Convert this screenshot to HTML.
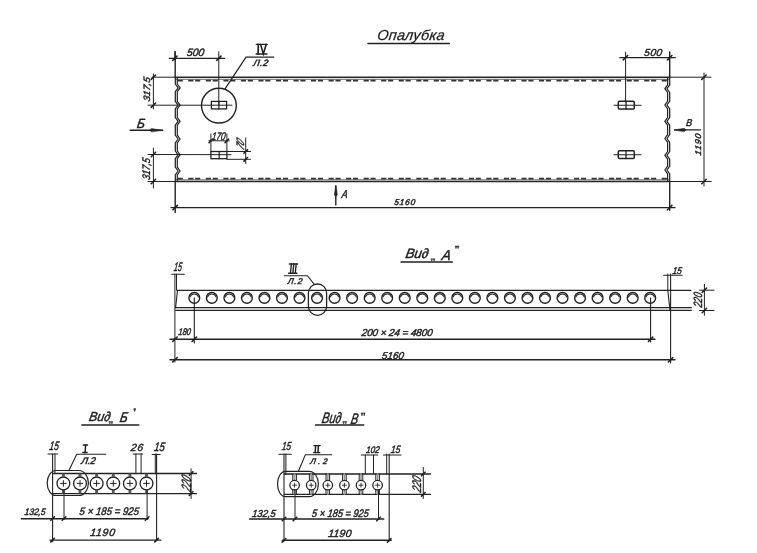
<!DOCTYPE html>
<html><head><meta charset="utf-8"><style>
html,body{margin:0;padding:0;background:#fff;width:757px;height:553px;overflow:hidden}
svg{display:block;will-change:transform}
text{font-family:"Liberation Sans",sans-serif;font-style:italic;fill:#1e1e1e;stroke:#1e1e1e}
</style></head><body>
<svg width="757" height="553" viewBox="0 0 757 553" stroke="#222" stroke-linecap="round" fill="none">
<line x1="368.0" y1="43.6" x2="449.4" y2="43.6" stroke-width="1.5" />
<line x1="152.0" y1="77.2" x2="175.2" y2="77.2" stroke-width="1.0" />
<line x1="175.2" y1="77.2" x2="669.7" y2="77.2" stroke-width="1.6" stroke="#2a2a2a"/>
<line x1="176.2" y1="79.3" x2="668.7" y2="79.3" stroke-width="0.8" stroke="#444"/>
<line x1="669.7" y1="77.2" x2="711.0" y2="77.2" stroke-width="1.0" />
<path d="M177.7,80.7 L182.8,80.7 M188.3,80.7 L193.4,80.7 M195.2,80.7 L200.3,80.7 M205.8,80.7 L210.9,80.7 M212.7,80.7 L217.8,80.7 M223.4,80.7 L228.5,80.7 M230.3,80.7 L235.4,80.7 M240.9,80.7 L246.0,80.7 M247.8,80.7 L252.9,80.7 M258.4,80.7 L263.5,80.7 M265.3,80.7 L270.4,80.7 M276.0,80.7 L281.1,80.7 M282.9,80.7 L288.0,80.7 M293.5,80.7 L298.6,80.7 M300.4,80.7 L305.5,80.7 M311.0,80.7 L316.1,80.7 M317.9,80.7 L323.0,80.7 M328.6,80.7 L333.7,80.7 M335.5,80.7 L340.6,80.7 M346.1,80.7 L351.2,80.7 M353.0,80.7 L358.1,80.7 M363.6,80.7 L368.8,80.7 M370.5,80.7 L375.6,80.7 M381.2,80.7 L386.3,80.7 M388.1,80.7 L393.2,80.7 M398.7,80.7 L403.8,80.7 M405.6,80.7 L410.7,80.7 M416.3,80.7 L421.4,80.7 M423.2,80.7 L428.3,80.7 M433.8,80.7 L438.9,80.7 M440.7,80.7 L445.8,80.7 M451.3,80.7 L456.4,80.7 M458.2,80.7 L463.3,80.7 M468.9,80.7 L474.0,80.7 M475.8,80.7 L480.9,80.7 M486.4,80.7 L491.5,80.7 M493.3,80.7 L498.4,80.7 M503.9,80.7 L509.0,80.7 M510.8,80.7 L515.9,80.7 M521.5,80.7 L526.6,80.7 M528.4,80.7 L533.5,80.7 M539.0,80.7 L544.1,80.7 M545.9,80.7 L551.0,80.7 M556.5,80.7 L561.6,80.7 M563.4,80.7 L568.5,80.7 M574.1,80.7 L579.2,80.7 M581.0,80.7 L586.1,80.7 M591.6,80.7 L596.7,80.7 M598.5,80.7 L603.6,80.7 M609.1,80.7 L614.2,80.7 M616.0,80.7 L621.1,80.7 M626.7,80.7 L631.8,80.7 M633.6,80.7 L638.7,80.7 M644.2,80.7 L649.3,80.7 M651.1,80.7 L656.2,80.7 M661.7,80.7 L666.8,80.7 " stroke-width="1.8" stroke="#333" stroke-linecap="butt"/>
<line x1="148.0" y1="181.5" x2="175.2" y2="181.5" stroke-width="1.0" />
<line x1="175.2" y1="181.5" x2="669.7" y2="181.5" stroke-width="1.6" stroke="#2a2a2a"/>
<line x1="176.2" y1="179.8" x2="668.7" y2="179.8" stroke-width="0.8" stroke="#444"/>
<line x1="669.7" y1="181.5" x2="711.2" y2="181.5" stroke-width="1.0" />
<path d="M177.7,178.6 L182.8,178.6 M188.3,178.6 L193.4,178.6 M195.2,178.6 L200.3,178.6 M205.8,178.6 L210.9,178.6 M212.7,178.6 L217.8,178.6 M223.4,178.6 L228.5,178.6 M230.3,178.6 L235.4,178.6 M240.9,178.6 L246.0,178.6 M247.8,178.6 L252.9,178.6 M258.4,178.6 L263.5,178.6 M265.3,178.6 L270.4,178.6 M276.0,178.6 L281.1,178.6 M282.9,178.6 L288.0,178.6 M293.5,178.6 L298.6,178.6 M300.4,178.6 L305.5,178.6 M311.0,178.6 L316.1,178.6 M317.9,178.6 L323.0,178.6 M328.6,178.6 L333.7,178.6 M335.5,178.6 L340.6,178.6 M346.1,178.6 L351.2,178.6 M353.0,178.6 L358.1,178.6 M363.6,178.6 L368.8,178.6 M370.5,178.6 L375.6,178.6 M381.2,178.6 L386.3,178.6 M388.1,178.6 L393.2,178.6 M398.7,178.6 L403.8,178.6 M405.6,178.6 L410.7,178.6 M416.3,178.6 L421.4,178.6 M423.2,178.6 L428.3,178.6 M433.8,178.6 L438.9,178.6 M440.7,178.6 L445.8,178.6 M451.3,178.6 L456.4,178.6 M458.2,178.6 L463.3,178.6 M468.9,178.6 L474.0,178.6 M475.8,178.6 L480.9,178.6 M486.4,178.6 L491.5,178.6 M493.3,178.6 L498.4,178.6 M503.9,178.6 L509.0,178.6 M510.8,178.6 L515.9,178.6 M521.5,178.6 L526.6,178.6 M528.4,178.6 L533.5,178.6 M539.0,178.6 L544.1,178.6 M545.9,178.6 L551.0,178.6 M556.5,178.6 L561.6,178.6 M563.4,178.6 L568.5,178.6 M574.1,178.6 L579.2,178.6 M581.0,178.6 L586.1,178.6 M591.6,178.6 L596.7,178.6 M598.5,178.6 L603.6,178.6 M609.1,178.6 L614.2,178.6 M616.0,178.6 L621.1,178.6 M626.7,178.6 L631.8,178.6 M633.6,178.6 L638.7,178.6 M644.2,178.6 L649.3,178.6 M651.1,178.6 L656.2,178.6 M661.7,178.6 L666.8,178.6 " stroke-width="1.8" stroke="#333" stroke-linecap="butt"/>
<line x1="175.2" y1="51.8" x2="175.2" y2="77.2" stroke-width="1.4" />
<line x1="175.2" y1="181.5" x2="175.2" y2="212.6" stroke-width="1.4" />
<path d="M175.3,77.2 L175.3,84.0 L178.1,87.8 L175.3,91.6 L175.3,101.3 L178.1,105.1 L175.3,108.9 L175.3,117.5 L178.1,121.3 L175.3,125.1 L175.3,135.2 L178.1,139.0 L175.3,142.8 L175.3,151.0 L178.1,154.8 L175.3,158.6 L175.3,167.2 L178.1,171.0 L175.3,174.8 L175.3,181.5" stroke-width="1.25" stroke="#222" stroke-linejoin="round"/>
<path d="M177.3,78.2 L177.3,84.0 L180.1,87.8 L177.3,91.6 L177.3,101.3 L180.1,105.1 L177.3,108.9 L177.3,117.5 L180.1,121.3 L177.3,125.1 L177.3,135.2 L180.1,139.0 L177.3,142.8 L177.3,151.0 L180.1,154.8 L177.3,158.6 L177.3,167.2 L180.1,171.0 L177.3,174.8 L177.3,180.5" stroke-width="1.2" stroke="#222" stroke-linejoin="round"/>
<line x1="669.7" y1="52.0" x2="669.7" y2="77.2" stroke-width="1.4" />
<line x1="669.7" y1="181.5" x2="669.7" y2="210.3" stroke-width="1.4" />
<path d="M669.7,77.2 L669.7,84.9 L666.9,88.7 L669.7,92.5 L669.7,101.2 L666.9,105.0 L669.7,108.8 L669.7,117.5 L666.9,121.3 L669.7,125.1 L669.7,134.7 L666.9,138.5 L669.7,142.3 L669.7,151.5 L666.9,155.3 L669.7,159.1 L669.7,166.2 L666.9,170.0 L669.7,173.8 L669.7,181.5" stroke-width="1.25" stroke="#222" stroke-linejoin="round"/>
<path d="M667.6,78.2 L667.6,84.9 L664.8,88.7 L667.6,92.5 L667.6,101.2 L664.8,105.0 L667.6,108.8 L667.6,117.5 L664.8,121.3 L667.6,125.1 L667.6,134.7 L664.8,138.5 L667.6,142.3 L667.6,151.5 L664.8,155.3 L667.6,159.1 L667.6,166.2 L664.8,170.0 L667.6,173.8 L667.6,180.5" stroke-width="1.2" stroke="#222" stroke-linejoin="round"/>
<line x1="153.4" y1="74.0" x2="153.4" y2="109.0" stroke-width="1.0" />
<line x1="153.4" y1="148.0" x2="153.4" y2="188.0" stroke-width="1.0" />
<line x1="148.0" y1="105.2" x2="232.0" y2="105.2" stroke-width="1.0" />
<line x1="148.0" y1="154.5" x2="231.0" y2="154.7" stroke-width="1.0" />
<line x1="151.2" y1="79.4" x2="155.6" y2="75.0" stroke-width="1.6"/>
<line x1="151.2" y1="107.4" x2="155.6" y2="103.0" stroke-width="1.6"/>
<line x1="151.2" y1="156.7" x2="155.6" y2="152.3" stroke-width="1.6"/>
<line x1="151.2" y1="183.7" x2="155.6" y2="179.3" stroke-width="1.6"/>
<line x1="130.2" y1="130.2" x2="162.7" y2="130.2" stroke-width="1.4" />
<path d="M162.7,130.2 L151.5,128.6 L149.5,130.2 L151.5,131.8 Z" fill="#222" stroke="#222" stroke-width="0.5"/>
<line x1="169.2" y1="58.3" x2="224.7" y2="58.3" stroke-width="1.2" />
<line x1="174.8" y1="51.8" x2="174.8" y2="60.0" stroke-width="1.0" />
<line x1="218.8" y1="51.8" x2="218.8" y2="105.3" stroke-width="1.0" />
<line x1="172.6" y1="60.5" x2="177.0" y2="56.1" stroke-width="1.6"/>
<line x1="216.6" y1="60.5" x2="221.0" y2="56.1" stroke-width="1.6"/>
<circle cx="218.9" cy="105.6" r="17.4" stroke-width="1.4"/>
<rect x="211.4" y="101.4" width="15.2" height="7.5" stroke-width="1.3"/>
<line x1="218.9" y1="101.4" x2="218.9" y2="108.9" stroke-width="1.2" />
<polyline points="225.2,88.6 246.0,57.1 273.8,57.1" stroke-width="1.2" />
<line x1="256.4" y1="44.4" x2="267.2" y2="44.4" stroke-width="1.4" />
<line x1="256.2" y1="54.0" x2="267.0" y2="54.0" stroke-width="1.5" />
<line x1="258.3" y1="44.4" x2="258.1" y2="54.0" stroke-width="1.7" />
<polyline points="260.6,44.4 263.3,54.0 266.2,44.4" stroke-width="1.6" />
<rect x="210.9" y="151.5" width="16" height="7.2" stroke-width="1.3"/>
<line x1="219.2" y1="151.5" x2="219.2" y2="158.7" stroke-width="1.2" />
<line x1="210.9" y1="133.9" x2="210.9" y2="151.5" stroke-width="1.0" />
<line x1="226.9" y1="133.9" x2="226.9" y2="151.5" stroke-width="1.0" />
<line x1="208.9" y1="140.8" x2="229.2" y2="140.8" stroke-width="1.0" />
<line x1="209.1" y1="142.6" x2="212.7" y2="139.0" stroke-width="1.6"/>
<line x1="225.1" y1="142.6" x2="228.7" y2="139.0" stroke-width="1.6"/>
<line x1="226.9" y1="159.3" x2="250.5" y2="159.3" stroke-width="1.0" />
<line x1="226.9" y1="151.5" x2="250.5" y2="151.5" stroke-width="1.0" />
<line x1="245.7" y1="138.0" x2="245.7" y2="163.5" stroke-width="1.0" />
<line x1="243.9" y1="153.3" x2="247.5" y2="149.7" stroke-width="1.6"/>
<line x1="243.9" y1="161.1" x2="247.5" y2="157.5" stroke-width="1.6"/>
<rect x="618.3" y="101.3" width="16" height="7.8" rx="1.2" stroke-width="1.5"/>
<line x1="626.0" y1="101.3" x2="626.0" y2="109.1" stroke-width="1.3" />
<line x1="614.0" y1="105.3" x2="641.0" y2="105.3" stroke-width="1.1" />
<rect x="618.3" y="150.7" width="16" height="7.8" rx="1.2" stroke-width="1.5"/>
<line x1="626.0" y1="150.7" x2="626.0" y2="158.5" stroke-width="1.3" />
<line x1="614.0" y1="154.7" x2="641.0" y2="154.7" stroke-width="1.1" />
<line x1="625.6" y1="52.2" x2="625.6" y2="101.3" stroke-width="1.0" />
<line x1="619.8" y1="57.7" x2="675.3" y2="57.7" stroke-width="1.2" />
<line x1="623.2" y1="59.9" x2="627.6" y2="55.5" stroke-width="1.6"/>
<line x1="667.5" y1="59.9" x2="671.9" y2="55.5" stroke-width="1.6"/>
<line x1="704.0" y1="73.0" x2="704.0" y2="186.0" stroke-width="1.0" />
<line x1="701.8" y1="79.4" x2="706.2" y2="75.0" stroke-width="1.6"/>
<line x1="701.8" y1="183.7" x2="706.2" y2="179.3" stroke-width="1.6"/>
<line x1="674.7" y1="129.9" x2="700.4" y2="129.9" stroke-width="1.4" />
<path d="M674.3,129.9 L684.2,128.3 L686.2,129.9 L684.2,131.6 Z" fill="#222" stroke="#222" stroke-width="0.5"/>
<line x1="171.0" y1="207.6" x2="675.0" y2="207.6" stroke-width="1.4" />
<line x1="173.0" y1="209.8" x2="177.4" y2="205.4" stroke-width="1.6"/>
<line x1="667.5" y1="209.8" x2="671.9" y2="205.4" stroke-width="1.6"/>
<line x1="335.8" y1="186.0" x2="335.8" y2="205.0" stroke-width="1.4" />
<path d="M335.8,185.8 L334.3,194.7 L335.8,197 L337.3,194.7 Z" fill="#222" stroke="#222" stroke-width="0.5"/>
<line x1="401.0" y1="261.9" x2="452.4" y2="261.9" stroke-width="1.5" />
<path d="M431.3,258.8 l1.2,0 l-0.6,2 z M433.6,258.8 l1.2,0 l-0.6,2 z" fill="#222" stroke-width="0.6"/>
<path d="M455.5,246 l1.3,0 l-0.7,2.3 z M457.6,246 l1.3,0 l-0.7,2.3 z" fill="#222" stroke-width="0.6"/>
<line x1="177.5" y1="290.3" x2="690.8" y2="290.3" stroke-width="1.3" />
<line x1="175.6" y1="307.7" x2="691.4" y2="307.7" stroke-width="1.2" />
<line x1="175.6" y1="310.3" x2="691.4" y2="310.3" stroke-width="1.2" />
<line x1="177.5" y1="290.3" x2="175.6" y2="307.7" stroke-width="1.1" />
<line x1="667.8" y1="290.3" x2="670.0" y2="310.3" stroke-width="1.1" />
<circle cx="194.30" cy="297.9" r="5.4" stroke-width="1.4"/>
<path d="M190.0,297.0 A4.6,4.6 0 0 1 198.6,297.0" stroke-width="1.1" stroke="#333"/>
<circle cx="211.83" cy="297.9" r="5.4" stroke-width="1.4"/>
<path d="M207.5,297.0 A4.6,4.6 0 0 1 216.1,297.0" stroke-width="1.1" stroke="#333"/>
<circle cx="229.37" cy="297.9" r="5.4" stroke-width="1.4"/>
<path d="M225.1,297.0 A4.6,4.6 0 0 1 233.7,297.0" stroke-width="1.1" stroke="#333"/>
<circle cx="246.90" cy="297.9" r="5.4" stroke-width="1.4"/>
<path d="M242.6,297.0 A4.6,4.6 0 0 1 251.2,297.0" stroke-width="1.1" stroke="#333"/>
<circle cx="264.44" cy="297.9" r="5.4" stroke-width="1.4"/>
<path d="M260.1,297.0 A4.6,4.6 0 0 1 268.7,297.0" stroke-width="1.1" stroke="#333"/>
<circle cx="281.97" cy="297.9" r="5.4" stroke-width="1.4"/>
<path d="M277.7,297.0 A4.6,4.6 0 0 1 286.3,297.0" stroke-width="1.1" stroke="#333"/>
<circle cx="299.51" cy="297.9" r="5.4" stroke-width="1.4"/>
<path d="M295.2,297.0 A4.6,4.6 0 0 1 303.8,297.0" stroke-width="1.1" stroke="#333"/>
<circle cx="317.04" cy="297.9" r="5.4" stroke-width="1.4"/>
<path d="M312.7,297.0 A4.6,4.6 0 0 1 321.3,297.0" stroke-width="1.1" stroke="#333"/>
<circle cx="334.58" cy="297.9" r="5.4" stroke-width="1.4"/>
<path d="M330.3,297.0 A4.6,4.6 0 0 1 338.9,297.0" stroke-width="1.1" stroke="#333"/>
<circle cx="352.11" cy="297.9" r="5.4" stroke-width="1.4"/>
<path d="M347.8,297.0 A4.6,4.6 0 0 1 356.4,297.0" stroke-width="1.1" stroke="#333"/>
<circle cx="369.65" cy="297.9" r="5.4" stroke-width="1.4"/>
<path d="M365.3,297.0 A4.6,4.6 0 0 1 373.9,297.0" stroke-width="1.1" stroke="#333"/>
<circle cx="387.18" cy="297.9" r="5.4" stroke-width="1.4"/>
<path d="M382.9,297.0 A4.6,4.6 0 0 1 391.5,297.0" stroke-width="1.1" stroke="#333"/>
<circle cx="404.72" cy="297.9" r="5.4" stroke-width="1.4"/>
<path d="M400.4,297.0 A4.6,4.6 0 0 1 409.0,297.0" stroke-width="1.1" stroke="#333"/>
<circle cx="422.25" cy="297.9" r="5.4" stroke-width="1.4"/>
<path d="M417.9,297.0 A4.6,4.6 0 0 1 426.6,297.0" stroke-width="1.1" stroke="#333"/>
<circle cx="439.78" cy="297.9" r="5.4" stroke-width="1.4"/>
<path d="M435.5,297.0 A4.6,4.6 0 0 1 444.1,297.0" stroke-width="1.1" stroke="#333"/>
<circle cx="457.32" cy="297.9" r="5.4" stroke-width="1.4"/>
<path d="M453.0,297.0 A4.6,4.6 0 0 1 461.6,297.0" stroke-width="1.1" stroke="#333"/>
<circle cx="474.85" cy="297.9" r="5.4" stroke-width="1.4"/>
<path d="M470.6,297.0 A4.6,4.6 0 0 1 479.2,297.0" stroke-width="1.1" stroke="#333"/>
<circle cx="492.39" cy="297.9" r="5.4" stroke-width="1.4"/>
<path d="M488.1,297.0 A4.6,4.6 0 0 1 496.7,297.0" stroke-width="1.1" stroke="#333"/>
<circle cx="509.92" cy="297.9" r="5.4" stroke-width="1.4"/>
<path d="M505.6,297.0 A4.6,4.6 0 0 1 514.2,297.0" stroke-width="1.1" stroke="#333"/>
<circle cx="527.46" cy="297.9" r="5.4" stroke-width="1.4"/>
<path d="M523.2,297.0 A4.6,4.6 0 0 1 531.8,297.0" stroke-width="1.1" stroke="#333"/>
<circle cx="544.99" cy="297.9" r="5.4" stroke-width="1.4"/>
<path d="M540.7,297.0 A4.6,4.6 0 0 1 549.3,297.0" stroke-width="1.1" stroke="#333"/>
<circle cx="562.53" cy="297.9" r="5.4" stroke-width="1.4"/>
<path d="M558.2,297.0 A4.6,4.6 0 0 1 566.8,297.0" stroke-width="1.1" stroke="#333"/>
<circle cx="580.06" cy="297.9" r="5.4" stroke-width="1.4"/>
<path d="M575.8,297.0 A4.6,4.6 0 0 1 584.4,297.0" stroke-width="1.1" stroke="#333"/>
<circle cx="597.60" cy="297.9" r="5.4" stroke-width="1.4"/>
<path d="M593.3,297.0 A4.6,4.6 0 0 1 601.9,297.0" stroke-width="1.1" stroke="#333"/>
<circle cx="615.13" cy="297.9" r="5.4" stroke-width="1.4"/>
<path d="M610.8,297.0 A4.6,4.6 0 0 1 619.4,297.0" stroke-width="1.1" stroke="#333"/>
<circle cx="632.67" cy="297.9" r="5.4" stroke-width="1.4"/>
<path d="M628.4,297.0 A4.6,4.6 0 0 1 637.0,297.0" stroke-width="1.1" stroke="#333"/>
<circle cx="650.20" cy="297.9" r="5.4" stroke-width="1.4"/>
<path d="M645.9,297.0 A4.6,4.6 0 0 1 654.5,297.0" stroke-width="1.1" stroke="#333"/>
<rect x="308.4" y="284.0" width="18.2" height="31.3" rx="9" ry="9" stroke-width="1.3"/>
<polyline points="284.3,275.7 307.4,275.7 314.3,284.4" stroke-width="1.1" />
<line x1="289.3" y1="264.0" x2="297.6" y2="264.0" stroke-width="1.3" />
<line x1="288.6" y1="273.3" x2="296.9" y2="273.3" stroke-width="1.4" />
<line x1="291.4" y1="264.0" x2="290.4" y2="273.3" stroke-width="1.4" />
<line x1="293.8" y1="264.0" x2="292.8" y2="273.3" stroke-width="1.4" />
<line x1="296.2" y1="264.0" x2="295.2" y2="273.3" stroke-width="1.4" />
<line x1="174.9" y1="274.2" x2="174.9" y2="362.0" stroke-width="1.0" />
<line x1="176.5" y1="274.2" x2="176.5" y2="290.3" stroke-width="1.0" />
<line x1="171.8" y1="274.2" x2="184.2" y2="274.2" stroke-width="1.1" />
<line x1="194.3" y1="297.9" x2="194.3" y2="343.0" stroke-width="1.1" />
<line x1="170.0" y1="339.3" x2="655.0" y2="339.3" stroke-width="1.4" />
<line x1="172.7" y1="341.5" x2="177.1" y2="337.1" stroke-width="1.6"/>
<line x1="192.1" y1="341.5" x2="196.5" y2="337.1" stroke-width="1.6"/>
<line x1="648.4" y1="341.5" x2="652.8" y2="337.1" stroke-width="1.6"/>
<line x1="650.6" y1="297.9" x2="650.6" y2="342.0" stroke-width="1.1" />
<line x1="170.0" y1="359.8" x2="675.0" y2="359.8" stroke-width="1.4" />
<line x1="172.7" y1="362.0" x2="177.1" y2="357.6" stroke-width="1.6"/>
<line x1="668.4" y1="362.0" x2="672.8" y2="357.6" stroke-width="1.6"/>
<line x1="670.6" y1="274.0" x2="670.6" y2="363.0" stroke-width="1.1" />
<line x1="667.8" y1="274.0" x2="667.8" y2="290.3" stroke-width="1.0" />
<line x1="663.7" y1="275.2" x2="682.1" y2="275.2" stroke-width="1.1" />
<line x1="704.4" y1="284.4" x2="704.4" y2="315.3" stroke-width="1.0" />
<line x1="699.5" y1="290.2" x2="714.0" y2="290.2" stroke-width="1.0" />
<line x1="699.5" y1="310.5" x2="714.0" y2="310.5" stroke-width="1.0" />
<line x1="702.2" y1="292.4" x2="706.6" y2="288.0" stroke-width="1.6"/>
<line x1="702.2" y1="312.7" x2="706.6" y2="308.3" stroke-width="1.6"/>
<line x1="81.9" y1="424.9" x2="138.8" y2="424.9" stroke-width="1.5" />
<path d="M109.3,421.6 l1.2,0 l-0.6,2 z M111.4,421.6 l1.2,0 l-0.6,2 z" fill="#222" stroke-width="0.6"/>
<path d="M134.2,408.7 l1.3,0 l-0.7,2.3 z" fill="#222" stroke-width="0.8"/>
<line x1="53.5" y1="473.5" x2="196.5" y2="473.5" stroke-width="1.3" />
<line x1="53.5" y1="493.6" x2="196.5" y2="493.6" stroke-width="1.3" />
<line x1="52.6" y1="454.0" x2="52.6" y2="541.8" stroke-width="1.1" />
<line x1="55.0" y1="454.0" x2="55.0" y2="473.5" stroke-width="1.0" />
<line x1="156.6" y1="454.0" x2="156.6" y2="540.7" stroke-width="1.1" />
<line x1="155.3" y1="454.0" x2="155.3" y2="473.5" stroke-width="1.0" />
<circle cx="63.40" cy="483.4" r="6.4" stroke-width="1.3"/>
<line x1="60.6" y1="483.4" x2="66.2" y2="483.4" stroke-width="1.0" />
<line x1="63.4" y1="480.6" x2="63.4" y2="486.2" stroke-width="1.0" />
<line x1="63.4" y1="473.5" x2="63.4" y2="476.9" stroke-width="2.8" stroke-linecap="butt" stroke="#555"/>
<line x1="63.4" y1="489.9" x2="63.4" y2="493.6" stroke-width="2.8" stroke-linecap="butt" stroke="#555"/>
<circle cx="80.02" cy="483.4" r="6.4" stroke-width="1.3"/>
<line x1="77.2" y1="483.4" x2="82.8" y2="483.4" stroke-width="1.0" />
<line x1="80.0" y1="480.6" x2="80.0" y2="486.2" stroke-width="1.0" />
<line x1="80.0" y1="473.5" x2="80.0" y2="476.9" stroke-width="2.8" stroke-linecap="butt" stroke="#555"/>
<line x1="80.0" y1="489.9" x2="80.0" y2="493.6" stroke-width="2.8" stroke-linecap="butt" stroke="#555"/>
<circle cx="96.64" cy="483.4" r="6.4" stroke-width="1.3"/>
<line x1="93.8" y1="483.4" x2="99.4" y2="483.4" stroke-width="1.0" />
<line x1="96.6" y1="480.6" x2="96.6" y2="486.2" stroke-width="1.0" />
<line x1="96.6" y1="473.5" x2="96.6" y2="476.9" stroke-width="2.8" stroke-linecap="butt" stroke="#555"/>
<line x1="96.6" y1="489.9" x2="96.6" y2="493.6" stroke-width="2.8" stroke-linecap="butt" stroke="#555"/>
<circle cx="113.26" cy="483.4" r="6.4" stroke-width="1.3"/>
<line x1="110.5" y1="483.4" x2="116.1" y2="483.4" stroke-width="1.0" />
<line x1="113.3" y1="480.6" x2="113.3" y2="486.2" stroke-width="1.0" />
<line x1="113.3" y1="473.5" x2="113.3" y2="476.9" stroke-width="2.8" stroke-linecap="butt" stroke="#555"/>
<line x1="113.3" y1="489.9" x2="113.3" y2="493.6" stroke-width="2.8" stroke-linecap="butt" stroke="#555"/>
<circle cx="129.88" cy="483.4" r="6.4" stroke-width="1.3"/>
<line x1="127.1" y1="483.4" x2="132.7" y2="483.4" stroke-width="1.0" />
<line x1="129.9" y1="480.6" x2="129.9" y2="486.2" stroke-width="1.0" />
<line x1="129.9" y1="473.5" x2="129.9" y2="476.9" stroke-width="2.8" stroke-linecap="butt" stroke="#555"/>
<line x1="129.9" y1="489.9" x2="129.9" y2="493.6" stroke-width="2.8" stroke-linecap="butt" stroke="#555"/>
<circle cx="146.50" cy="483.4" r="6.4" stroke-width="1.3"/>
<line x1="143.7" y1="483.4" x2="149.3" y2="483.4" stroke-width="1.0" />
<line x1="146.5" y1="480.6" x2="146.5" y2="486.2" stroke-width="1.0" />
<line x1="146.5" y1="473.5" x2="146.5" y2="476.9" stroke-width="2.8" stroke-linecap="butt" stroke="#555"/>
<line x1="146.5" y1="489.9" x2="146.5" y2="493.6" stroke-width="2.8" stroke-linecap="butt" stroke="#555"/>
<path d="M55.9,470.5 L78.9,470.5 A9.5,12.5 0 0 1 78.9,495.5 L55.9,495.5 A8.7,12.5 0 0 1 55.9,470.5 Z" stroke-width="1.2"/>
<polyline points="68.8,470.7 76.7,454.2 105.8,454.2" stroke-width="1.1" />
<line x1="83.2" y1="445.0" x2="87.6" y2="445.0" stroke-width="1.3" />
<line x1="82.8" y1="452.5" x2="87.2" y2="452.5" stroke-width="1.3" />
<line x1="85.6" y1="445.0" x2="85.1" y2="452.5" stroke-width="1.5" />
<line x1="48.0" y1="454.0" x2="57.7" y2="454.0" stroke-width="1.1" />
<line x1="133.2" y1="454.0" x2="142.7" y2="454.0" stroke-width="1.1" />
<line x1="135.9" y1="454.0" x2="135.9" y2="473.5" stroke-width="1.0" />
<line x1="141.1" y1="454.0" x2="141.1" y2="473.5" stroke-width="1.0" />
<line x1="152.2" y1="454.5" x2="160.2" y2="454.5" stroke-width="1.1" />
<line x1="191.1" y1="468.8" x2="191.1" y2="498.5" stroke-width="1.0" />
<line x1="189.3" y1="475.3" x2="192.9" y2="471.7" stroke-width="1.6"/>
<line x1="189.3" y1="495.4" x2="192.9" y2="491.8" stroke-width="1.6"/>
<line x1="64.0" y1="490.0" x2="64.0" y2="519.6" stroke-width="1.0" />
<line x1="147.1" y1="490.0" x2="147.1" y2="519.6" stroke-width="1.0" />
<line x1="21.3" y1="518.8" x2="148.2" y2="518.8" stroke-width="1.4" />
<line x1="50.8" y1="520.3" x2="54.4" y2="516.7" stroke-width="1.6"/>
<line x1="62.2" y1="520.3" x2="65.8" y2="516.7" stroke-width="1.6"/>
<line x1="145.3" y1="520.3" x2="148.9" y2="516.7" stroke-width="1.6"/>
<line x1="49.9" y1="540.1" x2="160.9" y2="540.1" stroke-width="1.4" />
<line x1="50.8" y1="541.9" x2="54.4" y2="538.3" stroke-width="1.6"/>
<line x1="154.8" y1="541.9" x2="158.4" y2="538.3" stroke-width="1.6"/>
<line x1="315.5" y1="424.9" x2="363.7" y2="424.9" stroke-width="1.5" />
<path d="M343.2,421.5 l1.2,0 l-0.6,2 z M345.3,421.5 l1.2,0 l-0.6,2 z" fill="#222" stroke-width="0.6"/>
<path d="M361.5,412.9 l1.2,0 l-0.7,2.6 z M363.8,412.9 l1.2,0 l-0.7,2.6 z" fill="#222" stroke-width="0.6"/>
<line x1="284.3" y1="474.0" x2="430.5" y2="474.0" stroke-width="1.3" />
<line x1="284.3" y1="494.3" x2="430.5" y2="494.3" stroke-width="1.3" />
<line x1="284.0" y1="454.0" x2="284.0" y2="541.0" stroke-width="1.1" />
<line x1="285.9" y1="454.0" x2="285.9" y2="474.0" stroke-width="1.0" />
<line x1="389.2" y1="454.0" x2="389.2" y2="541.0" stroke-width="1.1" />
<line x1="386.7" y1="454.0" x2="386.7" y2="474.0" stroke-width="1.0" />
<line x1="292.8" y1="474.0" x2="292.8" y2="494.3" stroke-width="1.0" />
<line x1="296.4" y1="474.0" x2="296.4" y2="494.3" stroke-width="1.0" />
<line x1="294.6" y1="474.0" x2="294.6" y2="494.3" stroke-width="1.6" stroke="#999"/>
<circle cx="294.60" cy="485.2" r="4.75" fill="#fff" stroke-width="1.3"/>
<line x1="292.6" y1="485.2" x2="296.6" y2="485.2" stroke-width="0.9" />
<line x1="294.6" y1="483.2" x2="294.6" y2="487.2" stroke-width="0.9" />
<line x1="309.4" y1="474.0" x2="309.4" y2="494.3" stroke-width="1.0" />
<line x1="313.0" y1="474.0" x2="313.0" y2="494.3" stroke-width="1.0" />
<line x1="311.2" y1="474.0" x2="311.2" y2="494.3" stroke-width="1.6" stroke="#999"/>
<circle cx="311.20" cy="485.2" r="4.75" fill="#fff" stroke-width="1.3"/>
<line x1="309.2" y1="485.2" x2="313.2" y2="485.2" stroke-width="0.9" />
<line x1="311.2" y1="483.2" x2="311.2" y2="487.2" stroke-width="0.9" />
<line x1="326.0" y1="474.0" x2="326.0" y2="494.3" stroke-width="1.0" />
<line x1="329.6" y1="474.0" x2="329.6" y2="494.3" stroke-width="1.0" />
<line x1="327.8" y1="474.0" x2="327.8" y2="494.3" stroke-width="1.6" stroke="#999"/>
<circle cx="327.80" cy="485.2" r="4.75" fill="#fff" stroke-width="1.3"/>
<line x1="325.8" y1="485.2" x2="329.8" y2="485.2" stroke-width="0.9" />
<line x1="327.8" y1="483.2" x2="327.8" y2="487.2" stroke-width="0.9" />
<line x1="342.6" y1="474.0" x2="342.6" y2="494.3" stroke-width="1.0" />
<line x1="346.2" y1="474.0" x2="346.2" y2="494.3" stroke-width="1.0" />
<line x1="344.4" y1="474.0" x2="344.4" y2="494.3" stroke-width="1.6" stroke="#999"/>
<circle cx="344.40" cy="485.2" r="4.75" fill="#fff" stroke-width="1.3"/>
<line x1="342.4" y1="485.2" x2="346.4" y2="485.2" stroke-width="0.9" />
<line x1="344.4" y1="483.2" x2="344.4" y2="487.2" stroke-width="0.9" />
<line x1="359.2" y1="474.0" x2="359.2" y2="494.3" stroke-width="1.0" />
<line x1="362.8" y1="474.0" x2="362.8" y2="494.3" stroke-width="1.0" />
<line x1="361.0" y1="474.0" x2="361.0" y2="494.3" stroke-width="1.6" stroke="#999"/>
<circle cx="361.00" cy="485.2" r="4.75" fill="#fff" stroke-width="1.3"/>
<line x1="359.0" y1="485.2" x2="363.0" y2="485.2" stroke-width="0.9" />
<line x1="361.0" y1="483.2" x2="361.0" y2="487.2" stroke-width="0.9" />
<line x1="375.8" y1="474.0" x2="375.8" y2="494.3" stroke-width="1.0" />
<line x1="379.4" y1="474.0" x2="379.4" y2="494.3" stroke-width="1.0" />
<line x1="377.6" y1="474.0" x2="377.6" y2="494.3" stroke-width="1.6" stroke="#999"/>
<circle cx="377.60" cy="485.2" r="4.75" fill="#fff" stroke-width="1.3"/>
<line x1="375.6" y1="485.2" x2="379.6" y2="485.2" stroke-width="0.9" />
<line x1="377.6" y1="483.2" x2="377.6" y2="487.2" stroke-width="0.9" />
<path d="M285.5,471.3 L309.2,471.3 A9.2,12.7 0 0 1 309.2,496.7 L285.5,496.7 A8,12.7 0 0 1 285.5,471.3 Z" stroke-width="1.2"/>
<polyline points="298.4,471.2 305.3,454.8 331.7,454.8" stroke-width="1.1" />
<line x1="313.9" y1="445.6" x2="320.2" y2="445.6" stroke-width="1.3" />
<line x1="313.5" y1="452.6" x2="319.8" y2="452.6" stroke-width="1.3" />
<line x1="315.6" y1="445.6" x2="315.2" y2="452.6" stroke-width="1.5" />
<line x1="318.4" y1="445.6" x2="318.0" y2="452.6" stroke-width="1.5" />
<line x1="279.0" y1="454.3" x2="291.4" y2="454.3" stroke-width="1.1" />
<line x1="361.3" y1="455.0" x2="377.7" y2="455.0" stroke-width="1.1" />
<line x1="365.3" y1="455.0" x2="365.3" y2="474.0" stroke-width="1.0" />
<line x1="373.5" y1="455.0" x2="373.5" y2="474.0" stroke-width="1.0" />
<line x1="383.5" y1="455.0" x2="401.0" y2="455.0" stroke-width="1.1" />
<line x1="423.3" y1="467.5" x2="423.3" y2="498.5" stroke-width="1.0" />
<line x1="421.5" y1="475.8" x2="425.1" y2="472.2" stroke-width="1.6"/>
<line x1="421.5" y1="496.1" x2="425.1" y2="492.5" stroke-width="1.6"/>
<line x1="295.0" y1="490.0" x2="295.0" y2="519.6" stroke-width="1.0" />
<line x1="378.5" y1="490.0" x2="378.5" y2="519.6" stroke-width="1.0" />
<line x1="249.5" y1="519.0" x2="383.8" y2="519.0" stroke-width="1.4" />
<line x1="282.2" y1="520.8" x2="285.8" y2="517.2" stroke-width="1.6"/>
<line x1="293.2" y1="520.8" x2="296.8" y2="517.2" stroke-width="1.6"/>
<line x1="376.7" y1="520.8" x2="380.3" y2="517.2" stroke-width="1.6"/>
<line x1="282.3" y1="540.3" x2="391.2" y2="540.3" stroke-width="1.4" />
<line x1="282.2" y1="542.1" x2="285.8" y2="538.5" stroke-width="1.6"/>
<line x1="387.4" y1="542.1" x2="391.0" y2="538.5" stroke-width="1.6"/>
<text x="0" y="0" font-size="14.50" textLength="67.24" lengthAdjust="spacing" transform="translate(376.80 40.30) rotate(0) skewX(-8)" style="font-family:'Liberation Sans';font-style:italic;stroke-width:0.25">Опалубка</text>
<text x="0" y="0" font-size="10.64" textLength="17.37" lengthAdjust="spacingAndGlyphs" transform="translate(186.50 56.10) rotate(0) skewX(-8)" style="font-family:'Liberation Sans';font-style:italic;stroke-width:0.45">500</text>
<text x="0" y="0" font-size="9.26" textLength="14.92" lengthAdjust="spacing" transform="translate(252.90 66.30) rotate(0) skewX(-8)" style="font-family:'Liberation Sans';font-style:italic;stroke-width:0.45">Л.2</text>
<text x="0" y="0" font-size="10.17" textLength="17.85" lengthAdjust="spacing" transform="translate(643.80 56.00) rotate(0) skewX(-8)" style="font-family:'Liberation Sans';font-style:italic;stroke-width:0.45">500</text>
<text x="0" y="0" font-size="9.19" textLength="24.19" lengthAdjust="spacingAndGlyphs" transform="translate(149.60 101.80) rotate(-90) skewX(-12)" style="font-family:'Liberation Sans';font-style:italic;stroke-width:0.45">317,5</text>
<text x="0" y="0" font-size="10.99" textLength="21.55" lengthAdjust="spacingAndGlyphs" transform="translate(149.60 180.20) rotate(-90) skewX(-12)" style="font-family:'Liberation Sans';font-style:italic;stroke-width:0.45">317,5</text>
<text x="0" y="0" font-size="13.30" textLength="7.97" lengthAdjust="spacingAndGlyphs" transform="translate(136.60 127.50) rotate(0) skewX(-8)" style="font-family:'Liberation Sans';font-style:italic;stroke-width:0.45">Б</text>
<text x="0" y="0" font-size="10.98" textLength="13.64" lengthAdjust="spacingAndGlyphs" transform="translate(211.50 140.10) rotate(0) skewX(-8)" style="font-family:'Liberation Sans';font-style:italic;stroke-width:0.45">170</text>
<text x="0" y="0" font-size="10.80" textLength="9.19" lengthAdjust="spacingAndGlyphs" transform="translate(244.20 151.00) rotate(-90) skewX(-35)" style="font-family:'Liberation Sans';font-style:italic;stroke-width:0.45">70</text>
<text x="0" y="0" font-size="9.72" textLength="5.94" lengthAdjust="spacingAndGlyphs" transform="translate(685.70 125.80) rotate(0) skewX(-8)" style="font-family:'Liberation Sans';font-style:italic;stroke-width:0.45">В</text>
<text x="0" y="0" font-size="8.51" textLength="21.42" lengthAdjust="spacing" transform="translate(700.80 155.70) rotate(-90) skewX(-12)" style="font-family:'Liberation Sans';font-style:italic;stroke-width:0.45">1190</text>
<text x="0" y="0" font-size="8.33" textLength="21.09" lengthAdjust="spacing" transform="translate(393.90 205.00) rotate(0) skewX(-8)" style="font-family:'Liberation Sans';font-style:italic;stroke-width:0.45">5160</text>
<text x="0" y="0" font-size="11.36" textLength="6.04" lengthAdjust="spacingAndGlyphs" transform="translate(341.20 197.90) rotate(0) skewX(-8)" style="font-family:'Liberation Sans';font-style:italic;stroke-width:0.45">А</text>
<text x="0" y="0" font-size="13.55" textLength="23.04" lengthAdjust="spacingAndGlyphs" transform="translate(404.90 258.40) rotate(0) skewX(-10)" style="font-family:'Liberation Sans';font-style:italic;stroke-width:0.45">Ви∂</text>
<text x="0" y="0" font-size="14.26" textLength="8.98" lengthAdjust="spacingAndGlyphs" transform="translate(441.20 260.00) rotate(0) skewX(-10)" style="font-family:'Liberation Sans';font-style:italic;stroke-width:0.45">А</text>
<text x="0" y="0" font-size="8.33" textLength="14.66" lengthAdjust="spacing" transform="translate(287.40 283.60) rotate(0) skewX(-8)" style="font-family:'Liberation Sans';font-style:italic;stroke-width:0.45">Л.2</text>
<text x="0" y="0" font-size="12.35" textLength="8.03" lengthAdjust="spacingAndGlyphs" transform="translate(173.50 271.40) rotate(0) skewX(-8)" style="font-family:'Liberation Sans';font-style:italic;stroke-width:0.45">15</text>
<text x="0" y="0" font-size="9.62" textLength="12.71" lengthAdjust="spacingAndGlyphs" transform="translate(177.90 335.10) rotate(0) skewX(-8)" style="font-family:'Liberation Sans';font-style:italic;stroke-width:0.45">180</text>
<text x="0" y="0" font-size="9.99" textLength="71.07" lengthAdjust="spacing" transform="translate(361.20 336.30) rotate(0) skewX(-8)" style="font-family:'Liberation Sans';font-style:italic;stroke-width:0.45">200 × 24 = 4800</text>
<text x="0" y="0" font-size="9.99" textLength="22.04" lengthAdjust="spacing" transform="translate(381.50 358.60) rotate(0) skewX(-8)" style="font-family:'Liberation Sans';font-style:italic;stroke-width:0.45">5160</text>
<text x="0" y="0" font-size="9.72" textLength="9.24" lengthAdjust="spacingAndGlyphs" transform="translate(672.20 274.20) rotate(0) skewX(-8)" style="font-family:'Liberation Sans';font-style:italic;stroke-width:0.45">15</text>
<text x="0" y="0" font-size="11.93" textLength="14.60" lengthAdjust="spacingAndGlyphs" transform="translate(701.80 307.80) rotate(-90) skewX(-12)" style="font-family:'Liberation Sans';font-style:italic;stroke-width:0.45">220</text>
<text x="0" y="0" font-size="13.08" textLength="21.31" lengthAdjust="spacingAndGlyphs" transform="translate(88.60 421.40) rotate(0) skewX(-10)" style="font-family:'Liberation Sans';font-style:italic;stroke-width:0.45">Ви∂</text>
<text x="0" y="0" font-size="14.26" textLength="7.88" lengthAdjust="spacingAndGlyphs" transform="translate(119.20 421.90) rotate(0) skewX(-10)" style="font-family:'Liberation Sans';font-style:italic;stroke-width:0.45">Б</text>
<text x="0" y="0" font-size="9.61" textLength="14.55" lengthAdjust="spacingAndGlyphs" transform="translate(80.90 463.90) rotate(0) skewX(-8)" style="font-family:'Liberation Sans';font-style:italic;stroke-width:0.45">Л.2</text>
<text x="0" y="0" font-size="12.35" textLength="9.34" lengthAdjust="spacingAndGlyphs" transform="translate(49.10 450.10) rotate(0) skewX(-8)" style="font-family:'Liberation Sans';font-style:italic;stroke-width:0.45">15</text>
<text x="0" y="0" font-size="10.34" textLength="12.27" lengthAdjust="spacing" transform="translate(130.40 450.90) rotate(0) skewX(-8)" style="font-family:'Liberation Sans';font-style:italic;stroke-width:0.45">26</text>
<text x="0" y="0" font-size="12.35" textLength="10.66" lengthAdjust="spacingAndGlyphs" transform="translate(153.70 450.90) rotate(0) skewX(-8)" style="font-family:'Liberation Sans';font-style:italic;stroke-width:0.45">15</text>
<text x="0" y="0" font-size="13.44" textLength="14.84" lengthAdjust="spacingAndGlyphs" transform="translate(190.60 492.70) rotate(-90) skewX(-25)" style="font-family:'Liberation Sans';font-style:italic;stroke-width:0.45">220</text>
<text x="0" y="0" font-size="9.39" textLength="20.98" lengthAdjust="spacingAndGlyphs" transform="translate(24.30 515.10) rotate(0) skewX(-8)" style="font-family:'Liberation Sans';font-style:italic;stroke-width:0.45">132,5</text>
<text x="0" y="0" font-size="11.11" textLength="59.42" lengthAdjust="spacingAndGlyphs" transform="translate(79.10 515.00) rotate(0) skewX(-8)" style="font-family:'Liberation Sans';font-style:italic;stroke-width:0.45">5 × 185 = 925</text>
<text x="0" y="0" font-size="10.56" textLength="24.84" lengthAdjust="spacing" transform="translate(89.70 535.50) rotate(0) skewX(-8)" style="font-family:'Liberation Sans';font-style:italic;stroke-width:0.45">1190</text>
<text x="0" y="0" font-size="15.16" textLength="19.52" lengthAdjust="spacingAndGlyphs" transform="translate(321.20 422.70) rotate(0) skewX(-10)" style="font-family:'Liberation Sans';font-style:italic;stroke-width:0.45">Ви∂</text>
<text x="0" y="0" font-size="15.23" textLength="7.27" lengthAdjust="spacingAndGlyphs" transform="translate(350.30 423.90) rotate(0) skewX(-10)" style="font-family:'Liberation Sans';font-style:italic;stroke-width:0.45">В</text>
<text x="0" y="0" font-size="8.02" textLength="17.19" lengthAdjust="spacing" transform="translate(310.00 463.80) rotate(0) skewX(-8)" style="font-family:'Liberation Sans';font-style:italic;stroke-width:0.45">Л.2</text>
<text x="0" y="0" font-size="11.63" textLength="9.07" lengthAdjust="spacingAndGlyphs" transform="translate(281.50 450.40) rotate(0) skewX(-8)" style="font-family:'Liberation Sans';font-style:italic;stroke-width:0.45">15</text>
<text x="0" y="0" font-size="9.61" textLength="13.47" lengthAdjust="spacingAndGlyphs" transform="translate(365.80 453.10) rotate(0) skewX(-8)" style="font-family:'Liberation Sans';font-style:italic;stroke-width:0.45">102</text>
<text x="0" y="0" font-size="10.56" textLength="9.41" lengthAdjust="spacingAndGlyphs" transform="translate(390.60 452.50) rotate(0) skewX(-8)" style="font-family:'Liberation Sans';font-style:italic;stroke-width:0.45">15</text>
<text x="0" y="0" font-size="12.46" textLength="15.42" lengthAdjust="spacingAndGlyphs" transform="translate(421.30 493.00) rotate(-90) skewX(-20)" style="font-family:'Liberation Sans';font-style:italic;stroke-width:0.45">220</text>
<text x="0" y="0" font-size="10.17" textLength="23.67" lengthAdjust="spacingAndGlyphs" transform="translate(251.70 516.80) rotate(0) skewX(-8)" style="font-family:'Liberation Sans';font-style:italic;stroke-width:0.45">132,5</text>
<text x="0" y="0" font-size="10.98" textLength="56.75" lengthAdjust="spacingAndGlyphs" transform="translate(311.60 517.10) rotate(0) skewX(-8)" style="font-family:'Liberation Sans';font-style:italic;stroke-width:0.45">5 × 185 = 925</text>
<text x="0" y="0" font-size="10.56" textLength="23.22" lengthAdjust="spacing" transform="translate(327.80 536.50) rotate(0) skewX(-8)" style="font-family:'Liberation Sans';font-style:italic;stroke-width:0.45">1190</text>
</svg>
</body></html>
